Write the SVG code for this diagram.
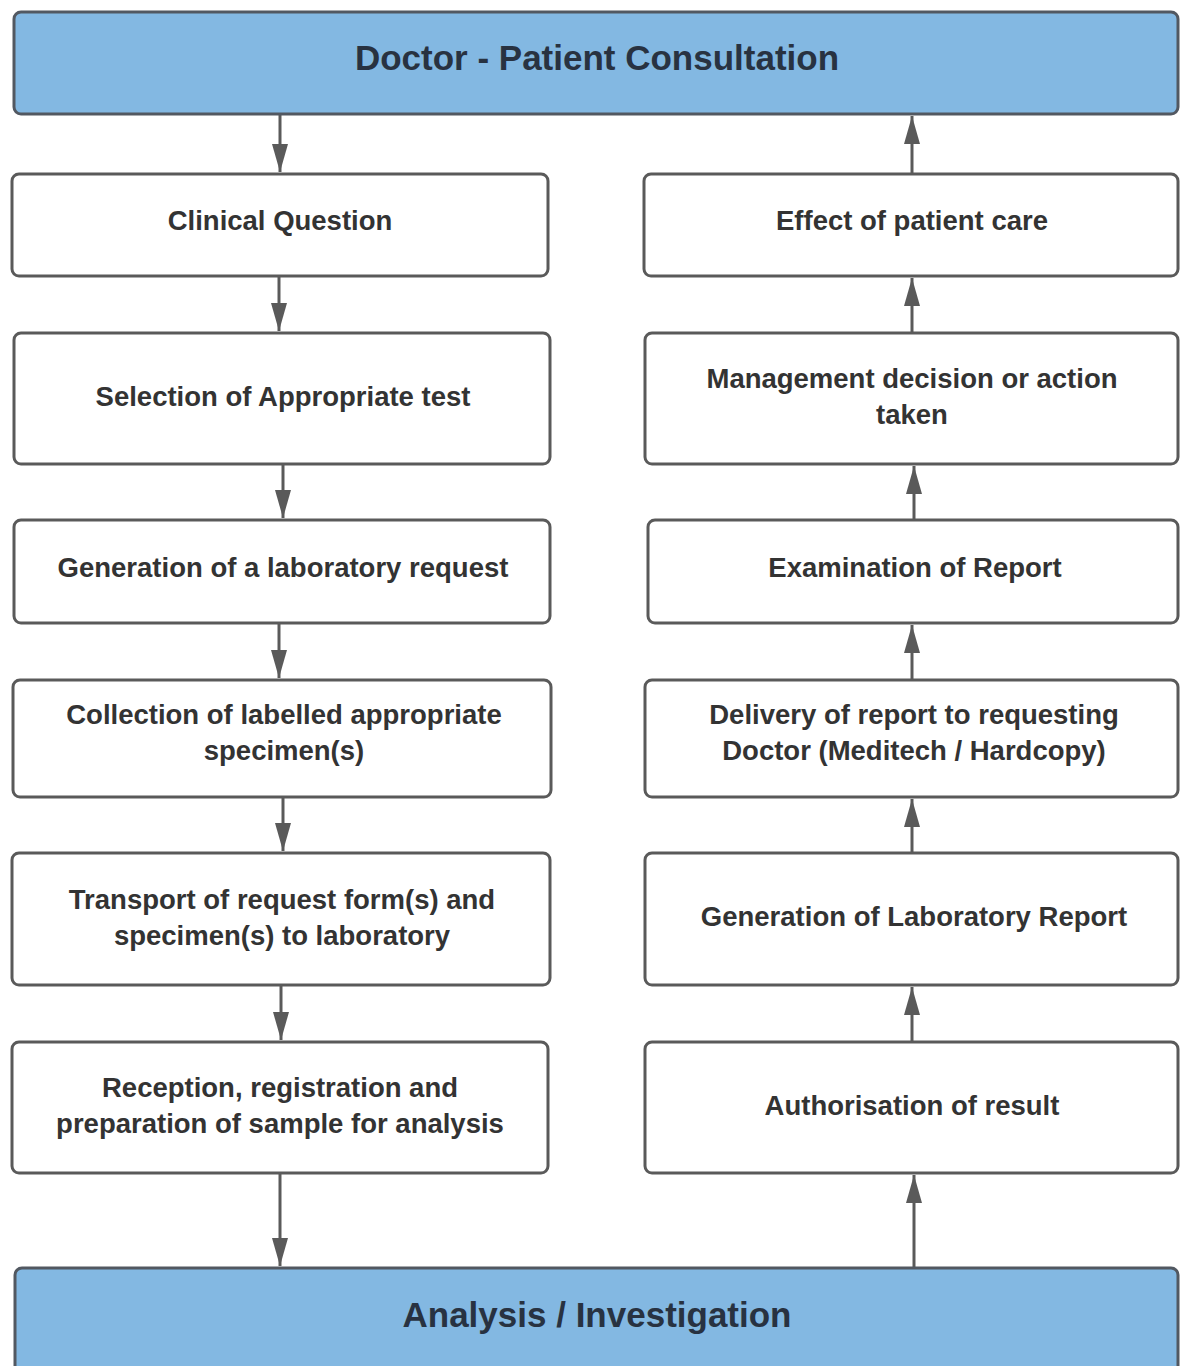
<svg xmlns="http://www.w3.org/2000/svg" width="1180" height="1366" viewBox="0 0 1180 1366">
<style>
.hdr{fill:#83b8e2;stroke:#525861;stroke-width:3}
.box{fill:#ffffff;stroke:#5a5a5a;stroke-width:3}
.t{font-family:"Liberation Sans",Arial,sans-serif;font-weight:bold;font-size:27.5px;fill:#333333;text-anchor:middle}
.ht{font-family:"Liberation Sans",Arial,sans-serif;font-weight:bold;font-size:35px;fill:#283241;text-anchor:middle}
.c{stroke:#5a5a5a;stroke-width:3;fill:none}
</style>
<defs>
<marker id="ah" viewBox="0 0 28 16" refX="28" refY="8" markerWidth="28" markerHeight="16" orient="auto" markerUnits="userSpaceOnUse">
<path d="M0,0 L28,8 L0,16 Z" fill="#5a5a5a"/>
</marker>
</defs>
<rect width="1180" height="1366" fill="#ffffff"/>
<g id="connectors">
<line class="c" x1="280" y1="114" x2="280" y2="172" marker-end="url(#ah)"/>
<line class="c" x1="279" y1="276" x2="279" y2="331" marker-end="url(#ah)"/>
<line class="c" x1="283" y1="464" x2="283" y2="518" marker-end="url(#ah)"/>
<line class="c" x1="279" y1="623" x2="279" y2="678" marker-end="url(#ah)"/>
<line class="c" x1="283" y1="797" x2="283" y2="851" marker-end="url(#ah)"/>
<line class="c" x1="281" y1="985" x2="281" y2="1040" marker-end="url(#ah)"/>
<line class="c" x1="280" y1="1173" x2="280" y2="1266" marker-end="url(#ah)"/>
<line class="c" x1="912" y1="174" x2="912" y2="116" marker-end="url(#ah)"/>
<line class="c" x1="912" y1="333" x2="912" y2="278" marker-end="url(#ah)"/>
<line class="c" x1="914" y1="520" x2="914" y2="466" marker-end="url(#ah)"/>
<line class="c" x1="912" y1="680" x2="912" y2="625" marker-end="url(#ah)"/>
<line class="c" x1="912" y1="853" x2="912" y2="799" marker-end="url(#ah)"/>
<line class="c" x1="912" y1="1042" x2="912" y2="987" marker-end="url(#ah)"/>
<line class="c" x1="914" y1="1268" x2="914" y2="1175" marker-end="url(#ah)"/>
</g>
<g id="top"><rect class="hdr" x="14" y="12" width="1164" height="102" rx="7"/><text class="ht" x="597" y="70">Doctor - Patient Consultation</text></g>
<g id="bottom"><rect class="hdr" x="15" y="1268" width="1163" height="110" rx="7"/><text class="ht" x="597" y="1327">Analysis / Investigation</text></g>
<g id="l1"><rect class="box" x="12" y="174" width="536" height="102" rx="7"/><text class="t" x="280" y="230">Clinical Question</text></g>
<g id="l2"><rect class="box" x="14" y="333" width="536" height="131" rx="7"/><text class="t" x="283" y="406">Selection of Appropriate test</text></g>
<g id="l3"><rect class="box" x="14" y="520" width="536" height="103" rx="7"/><text class="t" x="283" y="577">Generation of a laboratory request</text></g>
<g id="l4"><rect class="box" x="13" y="680" width="538" height="117" rx="7"/><text class="t" x="284" y="724">Collection of labelled appropriate</text><text class="t" x="284" y="760">specimen(s)</text></g>
<g id="l5"><rect class="box" x="12" y="853" width="538" height="132" rx="7"/><text class="t" x="282" y="909">Transport of request form(s) and</text><text class="t" x="282" y="945">specimen(s) to laboratory</text></g>
<g id="l6"><rect class="box" x="12" y="1042" width="536" height="131" rx="7"/><text class="t" x="280" y="1097">Reception, registration and</text><text class="t" x="280" y="1133">preparation of sample for analysis</text></g>
<g id="r1"><rect class="box" x="644" y="174" width="534" height="102" rx="7"/><text class="t" x="912" y="230">Effect of patient care</text></g>
<g id="r2"><rect class="box" x="645" y="333" width="533" height="131" rx="7"/><text class="t" x="912" y="388">Management decision or action</text><text class="t" x="912" y="424">taken</text></g>
<g id="r3"><rect class="box" x="648" y="520" width="530" height="103" rx="7"/><text class="t" x="915" y="577">Examination of Report</text></g>
<g id="r4"><rect class="box" x="645" y="680" width="533" height="117" rx="7"/><text class="t" x="914" y="724">Delivery of report to requesting</text><text class="t" x="914" y="760">Doctor (Meditech / Hardcopy)</text></g>
<g id="r5"><rect class="box" x="645" y="853" width="533" height="132" rx="7"/><text class="t" x="914" y="926">Generation of Laboratory Report</text></g>
<g id="r6"><rect class="box" x="645" y="1042" width="533" height="131" rx="7"/><text class="t" x="912" y="1115">Authorisation of result</text></g>
</svg>
